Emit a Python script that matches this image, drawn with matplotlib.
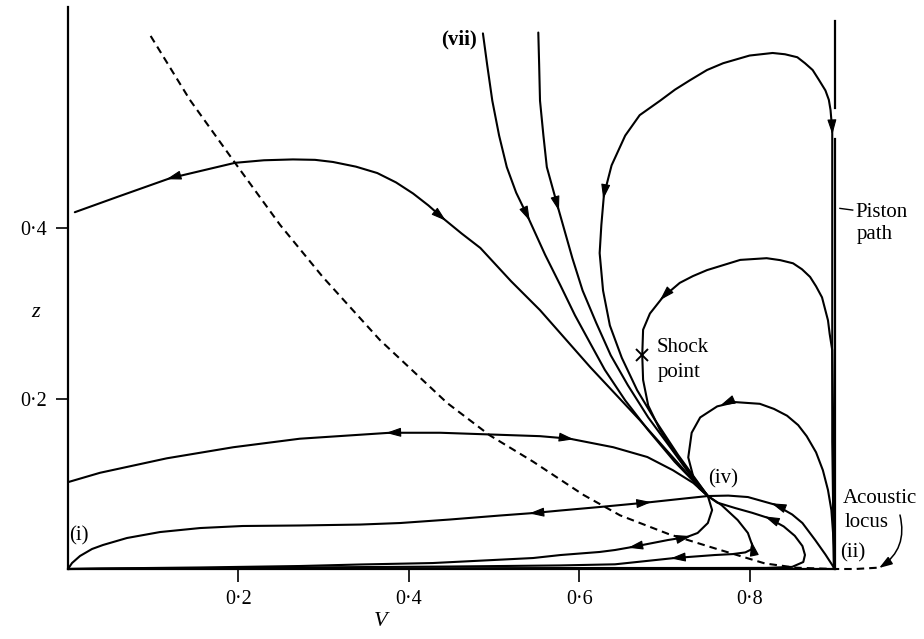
import numpy as np
import matplotlib
matplotlib.use("Agg")
import matplotlib.pyplot as plt

plt.rcParams['font.family'] = ['Liberation Serif', 'DejaVu Serif']

# ---------------- data (V, z) ----------------
node_iv = (0.751, 0.0857)
shock_point = (0.674, 0.251)
piston_V = 0.9

xtick_vals = [0.2, 0.4, 0.6, 0.8]
xtick_labels = ['0·2', '0·4', '0·6', '0·8']
ytick_vals = [0.2, 0.4]
ytick_labels = ['0·2', '0·4']

# large trajectory from the left axis over the top into (iv)
big_V = [0.008, 0.058, 0.120, 0.196, 0.230, 0.264, 0.290, 0.311, 0.338, 0.363, 0.385, 0.405, 0.423,
         0.440, 0.462, 0.484, 0.520, 0.554, 0.613, 0.671, 0.710, 0.734, 0.751]
big_z = [0.419, 0.437, 0.459, 0.477, 0.480, 0.481, 0.4805, 0.478, 0.4725, 0.465, 0.454, 0.441, 0.427,
         0.412, 0.394, 0.377, 0.338, 0.304, 0.237, 0.175, 0.131, 0.104, 0.0857]

# (vii) family from the top
vii1_V = [0.487, 0.492, 0.498, 0.506, 0.515, 0.526, 0.540, 0.560, 0.578, 0.595, 0.613, 0.630, 0.654, 0.681, 0.712, 0.751]
vii1_z = [0.629, 0.592, 0.550, 0.509, 0.472, 0.442, 0.413, 0.369, 0.333, 0.298, 0.265, 0.234, 0.198, 0.163, 0.126, 0.0857]
vii2_V = [0.552, 0.553, 0.554, 0.558, 0.562, 0.575, 0.592, 0.604, 0.620, 0.637, 0.657, 0.681, 0.709, 0.730, 0.751]
vii2_z = [0.630, 0.592, 0.550, 0.509, 0.472, 0.425, 0.365, 0.327, 0.289, 0.251, 0.216, 0.178, 0.140, 0.111, 0.0857]

# big loop: up along the piston, over the top, down into (iv)
bl_V = [0.899, 0.897, 0.897, 0.897, 0.897, 0.895, 0.893, 0.889, 0.881, 0.874, 0.865, 0.856, 0.8415, 0.827,
        0.800, 0.769, 0.750, 0.730, 0.7125, 0.695, 0.671, 0.654, 0.638, 0.629, 0.626, 0.624, 0.628, 0.636,
        0.650, 0.668, 0.689, 0.716, 0.751]
bl_z = [0.0, 0.15, 0.35, 0.48, 0.515, 0.539, 0.551, 0.562, 0.575, 0.586, 0.594, 0.601, 0.6045, 0.606,
        0.603, 0.594, 0.586, 0.574, 0.563, 0.550, 0.533, 0.509, 0.474, 0.439, 0.404, 0.371, 0.327, 0.286,
        0.248, 0.210, 0.175, 0.134, 0.0857]

# medium loop through the shock point
ml_V = [0.899, 0.898, 0.898, 0.897, 0.894, 0.892, 0.885, 0.878, 0.871, 0.8615, 0.851, 0.836, 0.820, 0.789,
        0.750, 0.7335, 0.718, 0.698, 0.683, 0.675, 0.674, 0.675, 0.681, 0.695, 0.712, 0.734, 0.751]
ml_z = [0.0, 0.081, 0.175, 0.257, 0.276, 0.292, 0.319, 0.332, 0.343, 0.352, 0.359, 0.3627, 0.365, 0.363,
        0.351, 0.344, 0.336, 0.319, 0.300, 0.281, 0.251, 0.222, 0.192, 0.163, 0.137, 0.108, 0.0857]

# small loop from (ii) into (iv)
sl_V = [0.900, 0.899, 0.896, 0.892, 0.886, 0.878, 0.867, 0.857, 0.844, 0.8286, 0.812, 0.783, 0.762, 0.742,
        0.732, 0.730, 0.728, 0.734, 0.7406, 0.751]
sl_z = [0.0, 0.028, 0.069, 0.0927, 0.116, 0.137, 0.156, 0.169, 0.180, 0.188, 0.194, 0.196, 0.191, 0.178,
        0.160, 0.1455, 0.131, 0.108, 0.095, 0.0857]

# (iv) -> (ii)
a_V = [0.751, 0.775, 0.798, 0.830, 0.850, 0.862, 0.877, 0.889, 0.900]
a_z = [0.0857, 0.0862, 0.0845, 0.0755, 0.064, 0.054, 0.034, 0.017, 0.0]

# (iv) -> loops back along the axis to (i)
b_V = [0.751, 0.762, 0.783, 0.803, 0.822, 0.840, 0.853, 0.862, 0.865, 0.863, 0.850, 0.820, 0.742, 0.624,
       0.390, 0.155, 0.0]
b_z = [0.0857, 0.078, 0.0716, 0.066, 0.0599, 0.050, 0.039, 0.027, 0.0165, 0.0082, 0.0025, 0.0013, 0.0012,
       0.0012, 0.0008, 0.0004, 0.0]
c_V = [0.751, 0.767, 0.786, 0.798, 0.803, 0.802, 0.795, 0.780, 0.759, 0.712, 0.642, 0.578, 0.448, 0.272,
       0.096, 0.0]
c_z = [0.0857, 0.0751, 0.0575, 0.0423, 0.0282, 0.023, 0.0195, 0.0175, 0.0164, 0.0129, 0.0055, 0.0042,
       0.0029, 0.0018, 0.0006, 0.0]
d_V = [0.751, 0.756, 0.751, 0.739, 0.7265, 0.704, 0.662, 0.642, 0.624, 0.578, 0.546, 0.428, 0.343, 0.272,
       0.155, 0.038, 0.0]
d_z = [0.0857, 0.0692, 0.054, 0.0423, 0.0376, 0.034, 0.0258, 0.0223, 0.0200, 0.0164, 0.0129, 0.0070,
       0.0053, 0.0035, 0.0018, 0.0006, 0.0]

# (i) -> (iv)
e_V = [0.0, 0.0047, 0.0141, 0.0282, 0.0411, 0.0692, 0.108, 0.155, 0.205, 0.272, 0.343, 0.390, 0.448,
       0.507, 0.546, 0.578, 0.624, 0.680, 0.718, 0.751]
e_z = [0.0, 0.0070, 0.0153, 0.0235, 0.0282, 0.0364, 0.0434, 0.0481, 0.0505, 0.0511, 0.0522, 0.0540,
       0.0581, 0.0628, 0.0657, 0.0687, 0.0728, 0.0781, 0.0822, 0.0857]

# from the z axis at 0.1 into (iv)
f_V = [0.0, 0.0376, 0.116, 0.194, 0.272, 0.378, 0.437, 0.495, 0.554, 0.589, 0.640, 0.680, 0.710, 0.734, 0.751]
f_z = [0.102, 0.113, 0.130, 0.143, 0.153, 0.160, 0.160, 0.158, 0.156, 0.153, 0.143, 0.1315, 0.116, 0.101, 0.0857]

# acoustic locus (dashed)
loc_V = [0.097, 0.143, 0.196, 0.249, 0.299, 0.366, 0.445, 0.495, 0.546, 0.605, 0.648, 0.705, 0.760, 0.818,
         0.855, 0.900, 0.924, 0.950]
loc_z = [0.626, 0.551, 0.477, 0.404, 0.343, 0.269, 0.195, 0.157, 0.126, 0.087, 0.063, 0.041, 0.024, 0.0065,
         0.0015, 0.0, 0.0, 0.0015]

# arrows: (curve, V, z, sense along the data order)
curves = {
    'big': (big_V, big_z), 'vii1': (vii1_V, vii1_z), 'vii2': (vii2_V, vii2_z),
    'bl': (bl_V, bl_z), 'ml': (ml_V, ml_z), 'sl': (sl_V, sl_z),
    'a': (a_V, a_z), 'b': (b_V, b_z), 'c': (c_V, c_z), 'd': (d_V, d_z),
    'e': (e_V, e_z), 'f': (f_V, f_z),
}
arrows = [
    ('big', 0.120, 0.459, -1), ('big', 0.440, 0.412, +1),
    ('vii1', 0.540, 0.413, +1), ('vii2', 0.575, 0.425, +1),
    ('bl', 0.629, 0.439, +1), ('bl', 0.897, 0.515, -1),
    ('ml', 0.698, 0.319, +1), ('sl', 0.770, 0.194, +1),
    ('a', 0.830, 0.0755, -1), ('b', 0.822, 0.0599, -1),
    ('c', 0.803, 0.0282, -1), ('c', 0.712, 0.0129, +1),
    ('d', 0.7265, 0.0376, -1), ('d', 0.662, 0.0258, +1),
    ('e', 0.546, 0.0657, -1), ('e', 0.680, 0.0781, +1),
    ('f', 0.378, 0.160, -1), ('f', 0.589, 0.153, +1),
]

# ---------------- figure ----------------
fig = plt.figure(figsize=(9.24, 6.39), dpi=100)
ax = fig.add_axes([68/924, 70/639, 852/924, 562/639])
ax.set_xlim(0, 1.0)
ax.set_ylim(0, 0.66)
for s in ['top', 'right']:
    ax.spines[s].set_visible(False)
ax.spines['bottom'].set_bounds(0, 0.9)
ax.spines['left'].set_linewidth(1.6)
ax.spines['bottom'].set_linewidth(1.6)
ax.set_xticks(xtick_vals)
ax.set_xticklabels(xtick_labels)
ax.set_yticks(ytick_vals)
ax.set_yticklabels(ytick_labels)
ax.tick_params(direction='out', length=9, width=1.2, labelsize=14.5, pad=6)

lw = 1.5
for key, (xs, zs) in curves.items():
    ax.plot(xs, zs, color='k', lw=lw, solid_joinstyle='round', solid_capstyle='round', clip_on=False)

ax.plot(loc_V, loc_z, color='k', lw=1.5, linestyle=(0, (3.6, 2.4)), clip_on=False)

# piston path
ax.plot([piston_V, piston_V], [0.0, 0.505], color='k', lw=1.6, clip_on=False)
ax.plot([piston_V, piston_V], [0.541, 0.644], color='k', lw=1.6, clip_on=False)

# shock point
ax.plot([shock_point[0]], [shock_point[1]], marker='x', color='k', ms=8, mew=1.4, clip_on=False)


def arrow_on(xs, zs, v0, z0, sense):
    P = ax.transData.transform(np.column_stack([xs, zs]))
    p = ax.transData.transform((v0, z0))
    i = int(np.argmin(((P - p) ** 2).sum(1)))
    j0 = max(i - 1, 0)
    j1 = min(i + 1, len(P) - 1)
    t = P[j1] - P[j0]
    t = t / np.hypot(*t) * sense
    inv = ax.transData.inverted()
    tip = inv.transform(p + 4 * t)
    tail = inv.transform(p - 5 * t)
    ax.annotate('', xy=tip, xytext=tail, annotation_clip=False,
                arrowprops=dict(arrowstyle='-|>,head_length=0.65,head_width=0.2', color='k',
                                lw=0.8, shrinkA=0, shrinkB=0, mutation_scale=14))


for key, v0, z0, sense in arrows:
    xs, zs = curves[key]
    arrow_on(xs, zs, v0, z0, sense)

# labels
fs = 15
ax.text(0.001, 0.033, '(i)', fontsize=fs, ha='left', va='baseline')
ax.text(0.906, 0.013, '(ii)', fontsize=fs, ha='left', va='baseline')
ax.text(0.751, 0.101, '(iv)', fontsize=fs, ha='left', va='baseline')
ax.text(0.480, 0.616, '(vii)', fontsize=fs, ha='right', va='baseline', fontweight='bold')
ax.text(0.691, 0.2547, 'Shock', fontsize=fs, ha='left', va='baseline')
ax.text(0.6925, 0.226, 'point', fontsize=fs, ha='left', va='baseline')
ax.text(0.924, 0.413, 'Piston', fontsize=fs, ha='left', va='baseline', clip_on=False)
ax.text(0.926, 0.387, 'path', fontsize=fs, ha='left', va='baseline', clip_on=False)
ax.plot([0.906, 0.921], [0.4235, 0.4215], color='k', lw=1.0, clip_on=False)
ax.text(0.9096, 0.0775, 'Acoustic', fontsize=fs, ha='left', va='baseline', clip_on=False)
ax.text(0.912, 0.0493, 'locus', fontsize=fs, ha='left', va='baseline', clip_on=False)
ax.annotate('', xy=(0.952, 0.0012), xytext=(0.9765, 0.0634), annotation_clip=False,
            arrowprops=dict(arrowstyle='-|>,head_length=0.6,head_width=0.2', color='k', lw=1.1,
                            shrinkA=0, shrinkB=0, mutation_scale=13,
                            connectionstyle='arc3,rad=-0.35'))

ax.text(0.367, -0.062, 'V', fontsize=16, style='italic', ha='center', va='center', clip_on=False)
ax.text(-0.0376, 0.3016, 'z', fontsize=16, style='italic', ha='center', va='center', clip_on=False)

fig.savefig('out.png', dpi=100)
